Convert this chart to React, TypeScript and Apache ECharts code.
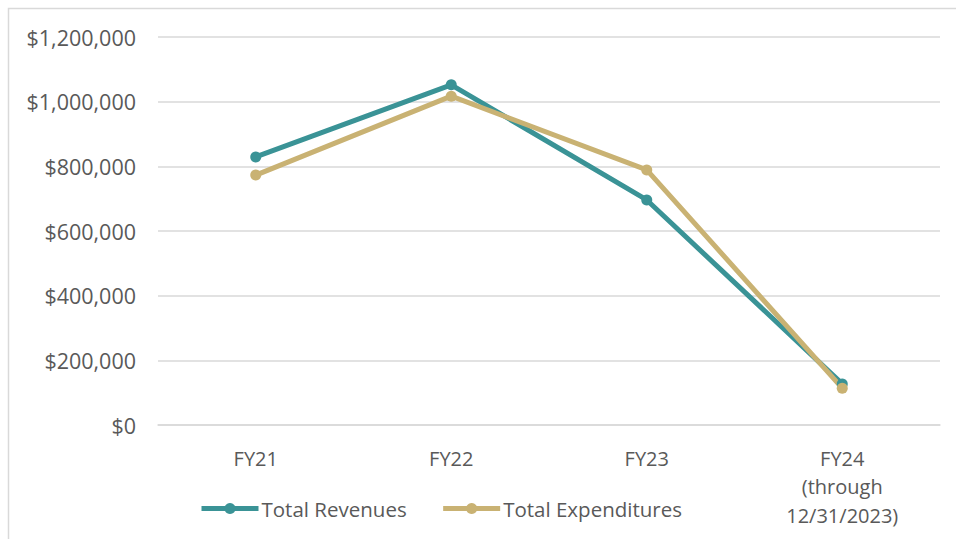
import React, { useEffect, useRef } from "react";
import * as echarts from "echarts";

const categories = ["FY21", "FY22", "FY23", "FY24\n(through\n12/31/2023)"];
const revenues = [829000, 1052000, 696000, 127000];
const expenditures = [773000, 1017000, 789000, 114000];
const seriesNames = ["Total Revenues", "Total Expenditures"];
const yTicks = { min: 0, max: 1200000, interval: 200000 };

const FONT = "'Open Sans', 'Noto Sans', sans-serif";
const TEXT = "#595959";

export default function App() {
  const ref = useRef<HTMLDivElement>(null);
  useEffect(() => {
    if (!ref.current) return;
    const chart = echarts.init(ref.current, undefined, { renderer: "svg" });
    chart.setOption({
      animation: false,
      backgroundColor: "#ffffff",
      textStyle: { fontFamily: FONT },
      graphic: [
        {
          type: "rect",
          shape: { x: 8.5, y: 8.5, width: 1000, height: 1000 },
          style: { fill: "none", stroke: "#d9d9d9", lineWidth: 1.5 },
          silent: true,
        },
      ],
      grid: { left: 158, right: 16, top: 37, bottom: 114, containLabel: false },
      legend: {
        left: 199,
        top: 498,
        padding: 0,
        itemWidth: 57,
        itemHeight: 14,
        itemGap: 34,
        lineStyle: { width: 5 },
        textStyle: { fontFamily: FONT, fontSize: 20.5, color: TEXT, padding: [0, 0, 0, -2] },
        data: seriesNames,
      },
      xAxis: {
        type: "category",
        data: categories,
        boundaryGap: true,
        axisLine: { show: true, lineStyle: { color: "#d9d9d9", width: 1.5 } },
        axisTick: { show: false },
        axisLabel: {
          color: TEXT,
          fontFamily: FONT,
          fontSize: 20,
          lineHeight: 28.5,
          margin: 19,
          interval: 0,
        },
      },
      yAxis: {
        type: "value",
        min: yTicks.min,
        max: yTicks.max,
        interval: yTicks.interval,
        axisLine: { show: false },
        axisTick: { show: false },
        splitLine: { lineStyle: { color: "#d9d9d9", width: 1.5 } },
        axisLabel: {
          color: TEXT,
          fontFamily: FONT,
          fontSize: 21.5,
          margin: 22,
          formatter: (v: number) => "$" + v.toLocaleString("en-US"),
        },
      },
      series: [
        {
          name: seriesNames[0],
          type: "line",
          data: revenues,
          symbol: "circle",
          symbolSize: 11,
          lineStyle: { color: "#3A9396", width: 5 },
          itemStyle: { color: "#3A9396" },
        },
        {
          name: seriesNames[1],
          type: "line",
          data: expenditures,
          symbol: "circle",
          symbolSize: 11,
          lineStyle: { color: "#C9B273", width: 5 },
          itemStyle: { color: "#C9B273" },
        },
      ],
    });
    return () => chart.dispose();
  }, []);
  return (
    <div
      ref={ref}
      style={{ position: "fixed", left: 0, top: 0, width: 956, height: 539 }}
    />
  );
}
